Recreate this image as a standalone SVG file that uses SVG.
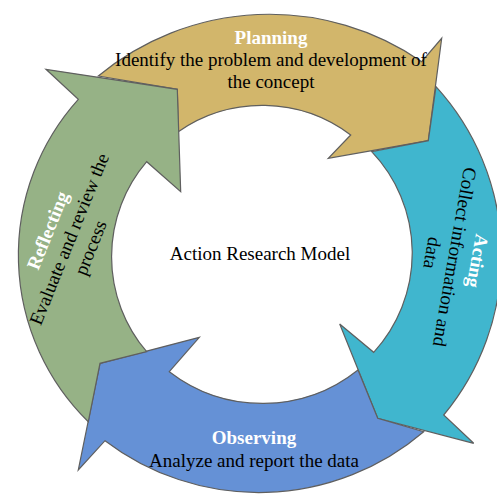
<svg xmlns="http://www.w3.org/2000/svg" width="497" height="495" viewBox="0 0 497 495">
<style>
.arrow{stroke:#5f5f5f;stroke-width:1.2;stroke-linejoin:miter}
.t{font-family:"Liberation Serif","Times New Roman",serif;font-size:19px;fill:#000;text-anchor:middle}
.h{font-family:"Liberation Serif","Times New Roman",serif;font-size:19px;font-weight:bold;fill:#fff;text-anchor:middle}
</style>
<rect width="497" height="495" fill="#fff"/>
<g id="planning">
<path class="arrow" fill="#D2B66B" d="M98.3,76 A268,268 0 0 1 421.7,61.7 L441.7,38.3 L428.3,140.7 L328.3,158.3 L350.7,135 A147,147 0 0 0 178.3,131.7 L177.3,89.3 Z"/>
<text class="h" x="271" y="44">Planning</text>
<text class="t" x="271" y="66">Identify the problem and development of</text>
<text class="t" x="271" y="88">the concept</text>
</g>
<g id="acting">
<path class="arrow" fill="#40B6CE" d="M436,86.7 A250,250 0 0 1 443.7,415 L473.7,443.3 L377.7,418.3 L339.7,324 L373.7,352.3 A147,147 0 0 0 371.7,151.7 L428.3,140.7 Z"/>
<g transform="translate(455,257) rotate(100)">
<text class="h" x="0" y="-16.5">Acting</text>
<text class="t" x="0" y="6.5">Collect information and</text>
<text class="t" x="0" y="29.5">data</text>
</g>
</g>
<g id="observing">
<path class="arrow" fill="#6591D6" d="M423.7,431.7 A254,254 0 0 1 105,440.7 L78.3,470 L100,363.3 L199.3,337.3 L169.3,371.7 A153,153 0 0 0 358,370 L377.7,418.3 Z"/>
<text class="h" x="254" y="444">Observing</text>
<text class="t" x="254" y="467">Analyze and report the data</text>
</g>
<g id="reflecting">
<path class="arrow" fill="#96B286" d="M88.3,421.7 A233,233 0 0 1 78.3,99.3 L46,69.3 L177.3,89.3 L180.7,191.7 L146.7,161.7 A146,146 0 0 0 146.7,351.7 L100,363.3 Z"/>
<g transform="translate(69,239) rotate(-68)">
<text class="h" x="0" y="-16.5">Reflecting</text>
<text class="t" x="0" y="6.5">Evaluate and review the</text>
<text class="t" x="0" y="29.5">process</text>
</g>
</g>
<g id="center">
<text class="t" x="260" y="260">Action Research Model</text>
</g>
<g id="connectors"></g>
</svg>
